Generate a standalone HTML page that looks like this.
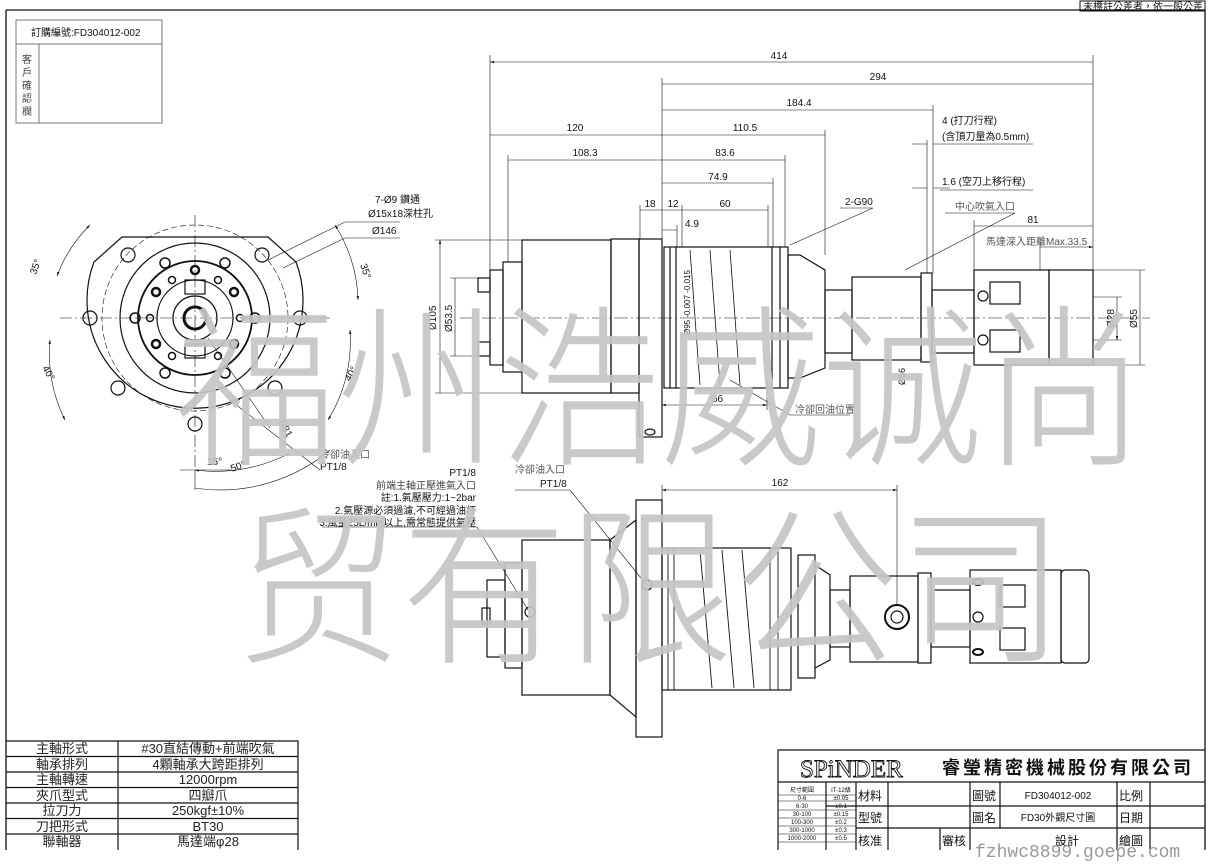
<!DOCTYPE html>
<html><head><meta charset="utf-8"><style>
html,body{margin:0;padding:0;background:#fff;width:1212px;height:864px;overflow:hidden}
svg{display:block}
text{font-family:"Liberation Sans","Noto Sans CJK TC",sans-serif}
</style></head><body>
<svg width="1212" height="864" viewBox="0 0 1212 864" xmlns="http://www.w3.org/2000/svg">
<defs>
<marker id="a" viewBox="0 0 10 6" refX="10" refY="3" markerWidth="8" markerHeight="4" orient="auto-start-reverse"><path d="M0,0L10,3L0,6z" fill="#111"/></marker>
</defs>
<g fill="none" stroke="#111" stroke-width="1.3">
<path d="M6,10H1205V850M6,10V850"/>
<rect x="1080" y="1" width="125" height="10" stroke-width="1"/>
</g>
<text x="1083" y="10" font-size="10" fill="#111">未標註公差者，依一般公差</text>
<g fill="none" stroke="#777" stroke-width="1">
<rect x="16" y="20" width="146" height="103"/><path d="M16,44H162M39,44V123"/>
</g>
<text x="31" y="36" font-size="10" fill="#111">訂購編號:FD304012-002</text>
<g font-size="10" fill="#444"><text x="22" y="63">客</text><text x="22" y="76">戶</text><text x="22" y="89">確</text><text x="22" y="102">認</text><text x="22" y="115">欄</text></g>

<!-- LEFT END VIEW -->
<g fill="none" stroke="#111" stroke-width="1.2">
<path d="M122,237 H268 L296,262 A108,108 0 1 1 94,262 Z"/>
<circle cx="195" cy="318" r="93" stroke-dasharray="6 3" stroke-width="0.6"/>
<circle cx="195" cy="318" r="75"/>
<circle cx="195" cy="318" r="57" stroke-width="1.8"/>
<circle cx="195" cy="318" r="38"/>
<circle cx="195" cy="318" r="22"/>
<circle cx="195" cy="318" r="11" stroke-width="3"/>
<circle cx="128" cy="255" r="7"/><circle cx="262" cy="255" r="7"/>
<circle cx="90" cy="318" r="7"/><circle cx="300" cy="318" r="7"/>
<circle cx="118" cy="388" r="7"/><circle cx="275" cy="388" r="7"/>
<circle cx="195" cy="424" r="7"/>
<g stroke-width="1.5">
<circle cx="165" cy="263" r="5"/><circle cx="225" cy="263" r="5"/>
<circle cx="135" cy="318" r="5"/><circle cx="255" cy="318" r="5"/>
<circle cx="165" cy="373" r="5"/><circle cx="225" cy="373" r="5"/>
<circle cx="195" cy="270" r="4" stroke-width="2.5"/>
<circle cx="156" cy="292" r="4" stroke-width="2.5"/><circle cx="234" cy="292" r="4" stroke-width="2.5"/>
<circle cx="156" cy="344" r="4" stroke-width="2.5"/><circle cx="234" cy="344" r="4" stroke-width="2.5"/>
<circle cx="172" cy="280" r="3.5"/><circle cx="218" cy="280" r="3.5"/>
<circle cx="172" cy="356" r="3.5"/><circle cx="218" cy="356" r="3.5"/>
<circle cx="150" cy="318" r="3.5"/><circle cx="240" cy="318" r="3.5"/>
</g>
<rect x="185" y="280" width="20" height="14"/><rect x="185" y="344" width="20" height="14"/>
</g>
<g stroke="#111" stroke-width="0.6" fill="none">
<path d="M60,318H330M195,215V470" stroke-dasharray="12 3 2 3"/>
<path d="M57,276 A140,140 0 0 1 90,225" marker-start="url(#a)" marker-end="url(#a)"/>
<path d="M50,340 A150,150 0 0 0 65,420" marker-start="url(#a)" marker-end="url(#a)"/>
<path d="M335,225 A150,150 0 0 1 358,300" marker-start="url(#a)" marker-end="url(#a)"/>
<path d="M350,330 A150,150 0 0 1 328,420" marker-start="url(#a)" marker-end="url(#a)"/>
<path d="M195,470 A160,160 0 0 0 290,453" marker-start="url(#a)" marker-end="url(#a)"/>
<path d="M195,470 V490 M180,470 H232 M195,488 A170,170 0 0 0 330,450"/>
<path d="M268,260 L345,222 H400 M283,268 L345,238 H400 M208,338 L270,428 M230,400 L320,470"/>
</g>
<g font-size="10" fill="#111"><text x="375" y="203">7-Ø9 鑽通</text><text x="368" y="217">Ø15x18深柱孔</text><text x="372" y="234">Ø146</text>
<text x="36" y="275" transform="rotate(-70 36 275)">35°</text><text x="360" y="265" transform="rotate(70 360 265)">35°</text>
<text x="42" y="368" transform="rotate(60 42 368)">40°</text><text x="350" y="382" transform="rotate(-60 350 382)">40°</text>
<text x="278" y="422" transform="rotate(60 278 422)">R81</text>
<text x="207" y="465">15°</text><text x="232" y="472" transform="rotate(-20 232 472)">50°</text>
<text x="320" y="458" fill="#555">冷卻油入口</text><text x="320" y="470">PT1/8</text></g>

<!-- TOP SIDE VIEW -->
<g fill="none" stroke="#111" stroke-width="1.2">
<rect x="478" y="278" width="12" height="14"/><rect x="478" y="342" width="12" height="14"/>
<rect x="490" y="270" width="13" height="95"/>
<rect x="503" y="262" width="19" height="110"/>
<rect x="522" y="240" width="89" height="153"/>
<rect x="611" y="239" width="28" height="154"/>
<rect x="639" y="239" width="23" height="198"/>
<rect x="664" y="247" width="124" height="141"/>
<path d="M670,247V388M676,247V388M772,247V388M780,247V388"/>
<path d="M690,250 L700,385 M710,250 L720,385 M730,250 L740,385" stroke-width="0.8"/>
<path d="M788,255H800L825,270V368L800,378H788Z"/>
<rect x="825" y="290" width="27" height="63"/>
<rect x="852" y="277" width="69" height="83"/>
<rect x="921" y="273" width="11" height="89"/>
<rect x="932" y="290" width="42" height="63"/>
<rect x="974" y="270" width="75" height="95"/><rect x="1049" y="270" width="44" height="95"/>
<rect x="990" y="282" width="30" height="22"/><rect x="990" y="330" width="30" height="22"/>
<circle cx="983" cy="296" r="5"/><circle cx="983" cy="340" r="5"/>
<ellipse cx="650" cy="432" rx="5" ry="3"/>
</g>
<path d="M460,318H1150" stroke="#111" stroke-width="0.5" stroke-dasharray="14 3 2 3"/>
<g stroke="#111" stroke-width="0.6" fill="none">
<path d="M490,62H1093M662,84H1093M662,110H933M490,135H662M662,135H825M508,160H662M662,160H785M662,183H773M640,210H662M662,210H682M682,210H768M662,230H677M974,226H1093M1040,247H1093" marker-start="url(#a)" marker-end="url(#a)"/>
<path d="M490,55V270M662,78V239M1093,55V270M933,105V273M508,155V262M825,130V255M785,155V247M773,178V247M768,205V247M640,205V239M682,205V247M677,225V247M927,140V273M974,220V270M1040,242V270"/>
<path d="M912,144H927M933,144H950 M950,144H1033 M912,188H927M933,188H950 M940,190H1033 M840,208H873 L790,245 M945,213H1015 L905,270"/>
<path d="M440,240V393M455,278V356M1140,270V365M1117,297V340" marker-start="url(#a)" marker-end="url(#a)"/>
<path d="M435,240H522M435,393H522M450,278H478M450,356H478M1093,270H1145M1093,365H1145M1093,297H1122M1093,340H1122"/>
<path d="M662,405H767" marker-start="url(#a)" marker-end="url(#a)"/>
<path d="M767,380V410M730,380 L790,415 H850"/>
</g>
<g font-size="10" fill="#111">
<text x="779" y="59" text-anchor="middle">414</text><text x="878" y="80" text-anchor="middle">294</text>
<text x="799" y="106" text-anchor="middle">184.4</text><text x="575" y="131" text-anchor="middle">120</text>
<text x="745" y="131" text-anchor="middle">110.5</text><text x="585" y="156" text-anchor="middle">108.3</text>
<text x="725" y="156" text-anchor="middle">83.6</text><text x="718" y="180" text-anchor="middle">74.9</text>
<text x="650" y="207" text-anchor="middle">18</text><text x="673" y="207" text-anchor="middle">12</text>
<text x="725" y="207" text-anchor="middle">60</text><text x="692" y="227" text-anchor="middle">4.9</text>
<text x="1033" y="223" text-anchor="middle">81</text>
<text x="942" y="124">4 (打刀行程)</text><text x="942" y="140">(含頂刀量為0.5mm)</text>
<text x="942" y="185">1.6 (空刀上移行程)</text><text x="845" y="205">2-G90</text>
<text x="955" y="210" fill="#555">中心吹氣入口</text><text x="986" y="245" fill="#555">馬達深入距離Max.33.5</text>
<text x="712" y="402">66</text><text x="795" y="413" fill="#555">冷卻回油位置</text>
<text x="436" y="330" transform="rotate(-90 436 330)">Ø105</text><text x="452" y="332" transform="rotate(-90 452 332)">Ø53.5</text>
<text x="1137" y="328" transform="rotate(-90 1137 328)">Ø55</text><text x="1114" y="328" transform="rotate(-90 1114 328)">Ø28</text>
<text x="690" y="335" font-size="8" transform="rotate(-90 690 335)">Ø95 -0.007 -0.015</text>
<text x="905" y="385" font-size="9" transform="rotate(-90 905 385)">Ø56</text>
</g>

<!-- BOTTOM SIDE VIEW -->
<g fill="none" stroke="#111" stroke-width="1.2">
<rect x="487" y="580" width="18" height="77"/>
<rect x="505" y="563" width="17" height="105"/>
<rect x="522" y="540" width="88" height="155"/>
<path d="M610,540 L636,520 V717 L610,695Z"/>
<rect x="636" y="500" width="26" height="237"/>
<rect x="662" y="548" width="129" height="142"/>
<path d="M668,548V690M674,548V690M770,548V690M778,548V690M700,550L712,688M722,550L734,688M742,550L754,688" stroke-width="0.9"/>
<rect x="798" y="555" width="17" height="123"/>
<path d="M815,565L830,575V660L815,668"/>
<rect x="830" y="590" width="20" height="57"/>
<rect x="850" y="576" width="68" height="86"/>
<rect x="918" y="573" width="13" height="90"/>
<rect x="931" y="590" width="39" height="57"/>
<rect x="970" y="570" width="91" height="93"/><rect x="1061" y="570" width="28" height="93" rx="4"/>
<circle cx="897" cy="617" r="12" stroke-width="2"/><circle cx="897" cy="617" r="6"/>
<rect x="482" y="608" width="8" height="16"/><circle cx="530" cy="612" r="5"/><circle cx="647" cy="585" r="5"/>
<ellipse cx="978" cy="582" rx="5" ry="3" stroke-width="2"/><ellipse cx="978" cy="652" rx="5" ry="3" stroke-width="2"/><circle cx="978" cy="617" r="5"/>
<rect x="1000" y="585" width="25" height="22"/><rect x="1000" y="628" width="25" height="22"/>
</g>
<g stroke="#111" stroke-width="0.6" fill="none">
<path d="M662,490H897" marker-start="url(#a)" marker-end="url(#a)"/>
<path d="M662,485V500M897,485V605M515,490H570 L645,583 M322,527H477 L528,610"/>
</g>
<g font-size="10" fill="#111">
<text x="780" y="486" text-anchor="middle">162</text>
<text x="515" y="473" fill="#555">冷卻油入口</text><text x="540" y="487">PT1/8</text>
<text x="476" y="476" text-anchor="end">PT1/8</text>
<text x="476" y="489" text-anchor="end" fill="#444">前端主軸正壓進氣入口</text>
<text x="476" y="501" text-anchor="end">註:1.氣壓壓力:1~2bar</text>
<text x="476" y="514" text-anchor="end">2.氣壓源必須過濾,不可經過油杯</text>
<text x="476" y="526" text-anchor="end">3.風量25L/min以上,需常態提供氣壓</text>
</g>

<!-- LEFT TABLE -->
<g fill="none" stroke="#111" stroke-width="1.2">
<path d="M6,741H298V850M118,741V850M6,756.5H298M6,772H298M6,787.5H298M6,803H298M6,818.5H298M6,834H298"/>
</g>
<g font-size="13" text-anchor="middle" fill="#222">
<text x="62" y="753">主軸形式</text><text x="208" y="753">#30直結傳動+前端吹氣</text>
<text x="62" y="769">軸承排列</text><text x="208" y="769">4顆軸承大跨距排列</text>
<text x="62" y="784">主軸轉速</text><text x="208" y="784">12000rpm</text>
<text x="62" y="800">夾爪型式</text><text x="208" y="800">四瓣爪</text>
<text x="62" y="815">拉刀力</text><text x="208" y="815">250kgf±10%</text>
<text x="62" y="831">刀把形式</text><text x="208" y="831">BT30</text>
<text x="62" y="846">聯軸器</text><text x="208" y="846">馬達端φ28</text>
</g>

<!-- TITLE BLOCK -->
<g fill="none" stroke="#111" stroke-width="1.2">
<path d="M778,850V750H1205M778,782H1205M826,806H1205M856,828H1205M826,782V850M856,782V850M888,782V850M970,782V850M1000,782V828M1117,782V850M1150,782V850M940,828V850"/>
<path d="M778,795H856M778,801H856M778,810H856M778,818H856M778,826H856M778,834H856M778,842H856" stroke-width="0.6"/>
</g>
<text x="800" y="777" font-size="25" style="font-family:'Liberation Serif',serif" fill="none" stroke="#111" stroke-width="0.9">SPiNDER</text>
<text x="942" y="774" font-size="18" font-weight="bold" letter-spacing="3" fill="#111">睿瑩精密機械股份有限公司</text>
<g font-size="6" text-anchor="middle" fill="#111"><text x="802" y="792">尺寸範圍</text><text x="841" y="792">IT-12級</text>
<text x="802" y="800">0-6</text><text x="841" y="800">±0.05</text><text x="802" y="808">6-30</text><text x="841" y="808">±0.1</text>
<text x="802" y="816">30-100</text><text x="841" y="816">±0.15</text><text x="802" y="824">100-300</text><text x="841" y="824">±0.2</text>
<text x="802" y="832">300-1000</text><text x="841" y="832">±0.3</text><text x="802" y="840">1000-2000</text><text x="841" y="840">±0.5</text></g>
<g font-size="12" fill="#111"><text x="858" y="800">材料</text><text x="858" y="822">型號</text><text x="858" y="845">核准</text>
<text x="972" y="800">圖號</text><text x="972" y="822">圖名</text><text x="942" y="845">審核</text>
<text x="1055" y="845">設計</text><text x="1119" y="800">比例</text><text x="1119" y="822">日期</text><text x="1119" y="845">繪圖</text></g>
<text x="1058" y="799" font-size="10" text-anchor="middle" fill="#111">FD304012-002</text>
<text x="1058" y="821" font-size="10" text-anchor="middle" fill="#111">FD30外觀尺寸圖</text>
<text x="975" y="857" font-size="18" style="font-family:'Liberation Mono',monospace" fill="#999">fzhwc8899.goepe.com</text>

<!-- WATERMARK -->
<g fill="#c4c4c4" fill-opacity="0.92">
<text x="175" y="452" font-size="175" textLength="970" lengthAdjust="spacingAndGlyphs" style="font-family:'Noto Sans CJK SC',sans-serif;font-weight:300">福州浩威诚尚</text>
<text x="235" y="650" font-size="172" textLength="830" lengthAdjust="spacingAndGlyphs" style="font-family:'Noto Sans CJK SC',sans-serif;font-weight:300">贸有限公司</text>
</g>
</svg>
</body></html>
